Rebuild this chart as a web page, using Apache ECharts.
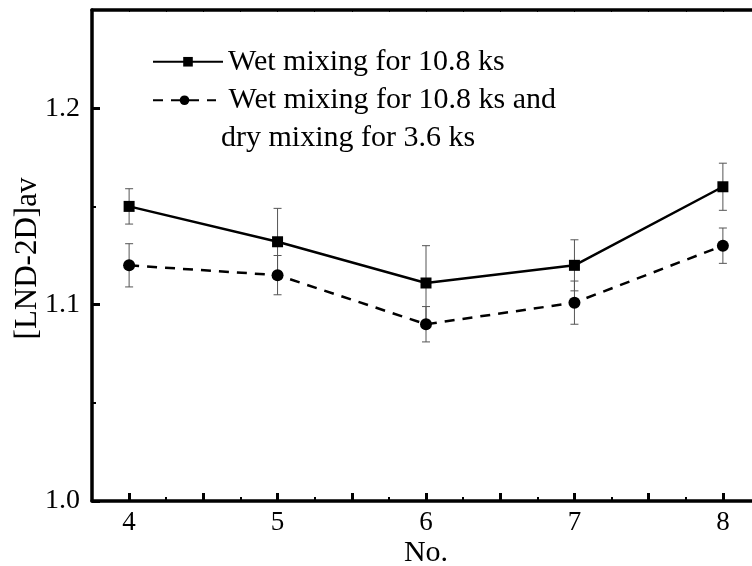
<!DOCTYPE html>
<html>
<head>
<meta charset="utf-8">
<script src="https://cdn.jsdelivr.net/npm/echarts@6/dist/echarts.min.js"></script>
<style>
  html, body { margin: 0; background: #fff; }
  #chart { width: 752px; height: 566px; }
</style>
</head>
<body>
<div id="chart"></div>
<script>
// sample numbers on the x axis
var sampleNo = [4, 5, 6, 7, 8];
// wet mixing 10.8 ks
var wetMix = [1.150, 1.132, 1.111, 1.120, 1.160];
var wetMixErr = [0.009, 0.017, 0.019, 0.013, 0.012];
// wet 10.8 ks + dry 3.6 ks
var wetDryMix = [1.120, 1.115, 1.090, 1.101, 1.130];
var wetDryMixErr = [0.011, 0.010, 0.009, 0.011, 0.009];

// ticks / labels
var xLabels = [4, 5, 6, 7, 8];
var xMajorTicks = [4, 4.5, 5, 5.5, 6, 6.5, 7, 7.5, 8];
var xMinorTicks = [4.25, 4.75, 5.25, 5.75, 6.25, 6.75, 7.25, 7.75];
var yLabels = [1.0, 1.1, 1.2];
var yMinorTicks = [1.05, 1.15, 1.25];

var name1 = "Wet mixing for 10.8 ks";
var name2 = "Wet mixing for 10.8 ks and\ndry mixing for 3.6 ks";

var font = "Liberation Serif";

function toPoints(vals) {
  return sampleNo.map(function (x, i) { return [x, vals[i]]; });
}
function toBars(vals, errs) {
  return sampleNo.map(function (x, i) { return [x, vals[i] - errs[i], vals[i] + errs[i]]; });
}

function errorBarItem(params, api) {
  var x = api.value(0);
  var lo = api.coord([x, api.value(1)]);
  var hi = api.coord([x, api.value(2)]);
  var half = 4;
  var style = { stroke: "#555", lineWidth: 1 };
  return {
    type: "group",
    children: [
      { type: "line", shape: { x1: lo[0], y1: lo[1], x2: hi[0], y2: hi[1] }, style: style },
      { type: "line", shape: { x1: lo[0] - half, y1: lo[1], x2: lo[0] + half, y2: lo[1] }, style: style },
      { type: "line", shape: { x1: hi[0] - half, y1: hi[1], x2: hi[0] + half, y2: hi[1] }, style: style }
    ]
  };
}

var chart = echarts.init(document.getElementById("chart"));

var axisLineStyle = { color: "#000", width: 3.5 };

var option = {
  animation: false,
  backgroundColor: "#fff",
  textStyle: { fontFamily: font, color: "#000" },
  grid: { left: 92, top: 10, right: -8, bottom: 65, outerBoundsMode: "none", containLabel: false },
  legend: [
    {
      data: [name1],
      left: 152,
      top: 43,
      orient: "vertical",
      padding: 0,
      selectedMode: false,
      itemWidth: 70,
      itemHeight: 12,
      textStyle: { fontFamily: font, fontSize: 30, color: "#000", lineHeight: 37.5 }
    },
    {
      data: [name2],
      left: 152,
      top: 44,
      orient: "vertical",
      padding: 0,
      selectedMode: false,
      itemWidth: 63,
      itemHeight: 12,
      formatter: function (n) { return "\n " + n; },
      textStyle: { fontFamily: font, fontSize: 30, color: "#000", lineHeight: 37.5 }
    }
  ],
  xAxis: [
    {
      type: "value",
      min: 3.75,
      max: 8.25,
      position: "bottom",
      name: "No.",
      nameLocation: "middle",
      nameGap: 37,
      nameMoveOverlap: false,
      nameTextStyle: { fontFamily: font, fontSize: 30, color: "#000" },
      axisLine: { lineStyle: axisLineStyle },
      axisTick: { inside: true, length: 8, lineStyle: { width: 3, color: "#000" }, customValues: xMajorTicks },
      axisLabel: { customValues: xLabels, fontFamily: font, fontSize: 27, color: "#000", margin: 8 },
      splitLine: { show: false }
    },
    {
      type: "value",
      min: 3.75,
      max: 8.25,
      position: "bottom",
      axisLine: { show: false },
      axisTick: { inside: true, length: 4, lineStyle: { width: 2, color: "#000" }, customValues: xMinorTicks },
      axisLabel: { show: false },
      splitLine: { show: false }
    },
    {
      type: "value",
      min: 3.75,
      max: 8.25,
      position: "top",
      axisLine: { lineStyle: axisLineStyle },
      axisTick: { inside: true, length: 2, lineStyle: { width: 1, color: "#000" }, customValues: xMajorTicks.concat(xMinorTicks) },
      axisLabel: { show: false },
      splitLine: { show: false }
    }
  ],
  yAxis: [
    {
      type: "value",
      min: 1.0,
      max: 1.25,
      position: "left",
      name: "[LND-2D]av",
      nameLocation: "middle",
      nameGap: 49,
      nameMoveOverlap: false,
      nameTextStyle: { fontFamily: font, fontSize: 31, color: "#000", padding: [0, 6, 0, 0] },
      axisLine: { lineStyle: axisLineStyle },
      axisTick: { inside: true, length: 8, lineStyle: { width: 3, color: "#000" }, customValues: yLabels },
      axisLabel: {
        customValues: yLabels,
        fontFamily: font, fontSize: 28, color: "#000", margin: 12,
        formatter: function (v) { return v.toFixed(1); }
      },
      splitLine: { show: false }
    },
    {
      type: "value",
      min: 1.0,
      max: 1.25,
      position: "left",
      axisLine: { show: false },
      axisTick: { inside: true, length: 4, lineStyle: { width: 2, color: "#000" }, customValues: yMinorTicks },
      axisLabel: { show: false },
      splitLine: { show: false }
    }
  ],
  series: [
    {
      type: "custom",
      xAxisIndex: 0,
      yAxisIndex: 0,
      renderItem: errorBarItem,
      encode: { x: 0, y: [1, 2] },
      data: toBars(wetMix, wetMixErr),
      z: 1
    },
    {
      type: "custom",
      xAxisIndex: 0,
      yAxisIndex: 0,
      renderItem: errorBarItem,
      encode: { x: 0, y: [1, 2] },
      data: toBars(wetDryMix, wetDryMixErr),
      z: 1
    },
    {
      name: name1,
      type: "line",
      xAxisIndex: 0,
      yAxisIndex: 0,
      data: toPoints(wetMix),
      symbol: "rect",
      symbolSize: 11,
      itemStyle: { color: "#000" },
      lineStyle: { color: "#000", width: 2.5 },
      z: 3
    },
    {
      name: name2,
      type: "line",
      xAxisIndex: 0,
      yAxisIndex: 0,
      data: toPoints(wetDryMix),
      symbol: "circle",
      symbolSize: 12,
      itemStyle: { color: "#000" },
      lineStyle: { color: "#000", width: 2.5, type: [10, 8] },
      z: 3
    }
  ]
};

chart.setOption(option);
</script>
</body>
</html>
